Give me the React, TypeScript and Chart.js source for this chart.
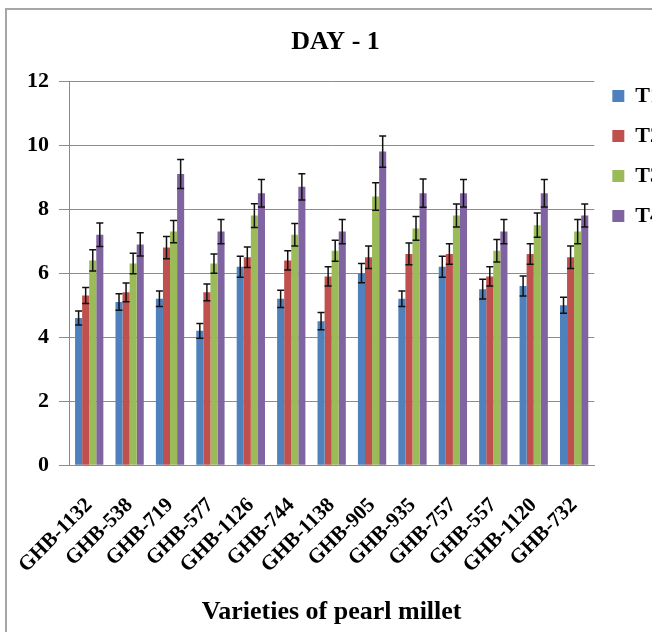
import React, { useEffect, useRef } from 'react';
import { Chart, registerables } from 'chart.js';

Chart.register(...registerables);

const categories = [
  'GHB-1132', 'GHB-538', 'GHB-719', 'GHB-577', 'GHB-1126', 'GHB-744', 'GHB-1138',
  'GHB-905', 'GHB-935', 'GHB-757', 'GHB-557', 'GHB-1120', 'GHB-732',
];

const seriesNames = ['T1', 'T2', 'T3', 'T4'];
const seriesColors = ['#4F81BD', '#C0504D', '#9BBB59', '#8064A2'];

const t1Values = [4.6, 5.1, 5.2, 4.2, 6.2, 5.2, 4.5, 6.0, 5.2, 6.2, 5.5, 5.6, 5.0];
const t2Values = [5.3, 5.4, 6.8, 5.4, 6.5, 6.4, 5.9, 6.5, 6.6, 6.6, 5.9, 6.6, 6.5];
const t3Values = [6.4, 6.3, 7.3, 6.3, 7.8, 7.2, 6.7, 8.4, 7.4, 7.8, 6.7, 7.5, 7.3];
const t4Values = [7.2, 6.9, 9.1, 7.3, 8.5, 8.7, 7.3, 9.8, 8.5, 8.5, 7.3, 8.5, 7.8];

const t1Errors = [0.22, 0.26, 0.24, 0.23, 0.33, 0.27, 0.27, 0.30, 0.24, 0.33, 0.31, 0.31, 0.25];
const t2Errors = [0.25, 0.29, 0.35, 0.26, 0.32, 0.30, 0.30, 0.35, 0.34, 0.32, 0.30, 0.32, 0.35];
const t3Errors = [0.33, 0.32, 0.35, 0.30, 0.37, 0.35, 0.33, 0.43, 0.37, 0.36, 0.35, 0.38, 0.38];
const t4Errors = [0.37, 0.36, 0.45, 0.38, 0.43, 0.41, 0.38, 0.49, 0.44, 0.43, 0.38, 0.43, 0.36];

const yTicks = [0, 2, 4, 6, 8, 10, 12];

const chartTitle = 'DAY - 1';
const xAxisTitle = 'Varieties of pearl millet';

const seriesValues = [t1Values, t2Values, t3Values, t4Values];
const seriesErrors = [t1Errors, t2Errors, t3Errors, t4Errors];

const FONT = "'Liberation Serif', 'Times New Roman', serif";

const errorBarPlugin = {
  id: 'errorBars',
  afterDatasetsDraw(chart: any) {
    const ctx = chart.ctx;
    const yScale = chart.scales.y;
    ctx.save();
    ctx.strokeStyle = '#111111';
    ctx.lineWidth = 1.5;
    chart.data.datasets.forEach((ds: any, di: number) => {
      const meta = chart.getDatasetMeta(di);
      const errs = seriesErrors[di];
      meta.data.forEach((bar: any, i: number) => {
        const v = ds.data[i];
        const e = errs[i];
        const x = bar.x;
        const yTop = yScale.getPixelForValue(v + e);
        const yBot = yScale.getPixelForValue(v - e);
        const cap = 3.5;
        ctx.beginPath();
        ctx.moveTo(x, yTop);
        ctx.lineTo(x, yBot);
        ctx.moveTo(x - cap, yTop);
        ctx.lineTo(x + cap, yTop);
        ctx.moveTo(x - cap, yBot);
        ctx.lineTo(x + cap, yBot);
        ctx.stroke();
      });
    });
    ctx.restore();
  },
};

export default function App() {
  const canvasRef = useRef<HTMLCanvasElement | null>(null);

  useEffect(() => {
    if (!canvasRef.current) return;
    const chart = new Chart(canvasRef.current, {
      type: 'bar',
      data: {
        labels: categories,
        datasets: seriesNames.map((name, i) => ({
          label: name,
          data: seriesValues[i],
          backgroundColor: seriesColors[i],
          borderWidth: 0,
          categoryPercentage: 0.7,
          barPercentage: 1.0,
        })),
      },
      options: {
        animation: false,
        responsive: true,
        maintainAspectRatio: false,
        devicePixelRatio: 1,
        layout: { padding: { left: 0, right: 0, top: 0, bottom: 0 } },
        plugins: {
          title: {
            display: true,
            text: chartTitle,
            color: '#000',
            font: { family: FONT, size: 26, weight: 'bold' },
            padding: { top: 27, bottom: 23 },
          },
          legend: {
            position: 'right',
            align: 'start',
            title: {
              display: true,
              text: ' ',
              font: { size: 10, lineHeight: 1 },
              padding: { top: 57, bottom: 0 },
            },
            labels: {
              boxWidth: 12,
              boxHeight: 12,
              padding: 18,
              color: '#000',
              font: { family: FONT, size: 22, weight: 'bold' },
            },
          },
          tooltip: { enabled: false },
        },
        scales: {
          x: {
            grid: { display: false, drawTicks: true, tickLength: 26 },
            border: { display: true, color: '#8c8c8c', width: 1 },
            ticks: {
              color: '#000',
              font: { family: FONT, size: 21, weight: 'bold' },
              minRotation: 45,
              maxRotation: 45,
              padding: 2,
              autoSkip: false,
            },
            title: {
              display: true,
              text: xAxisTitle,
              color: '#000',
              font: { family: FONT, size: 26, weight: 'bold' },
              padding: { top: 17, bottom: 4 },
            },
          },
          y: {
            min: yTicks[0],
            max: yTicks[yTicks.length - 1],
            afterBuildTicks: (scale: any) => {
              scale.ticks = yTicks.map((v) => ({ value: v }));
            },
            afterFit: (scale: any) => {
              scale.width = 69;
            },
            grid: { color: '#8c8c8c', lineWidth: 1, tickLength: 10 },
            border: { display: true, color: '#8c8c8c', width: 1 },
            ticks: {
              color: '#000',
              font: { family: FONT, size: 22, weight: 'bold' },
              padding: 10,
            },
          },
        },
      },
      plugins: [errorBarPlugin],
    } as any);
    return () => chart.destroy();
  }, []);

  return (
    <div
      style={{
        position: 'fixed',
        left: 0,
        top: 0,
        width: 652,
        height: 632,
        overflow: 'hidden',
        background: '#fff',
      }}
    >
      <div
        style={{
          position: 'absolute',
          left: 5,
          top: 8,
          width: 700,
          height: 700,
          borderLeft: '2px solid #a6a6a6',
          borderTop: '2px solid #a6a6a6',
        }}
      />
      <div style={{ position: 'absolute', left: 0, top: 0, width: 671, height: 632 }}>
        <canvas ref={canvasRef} />
      </div>
    </div>
  );
}
